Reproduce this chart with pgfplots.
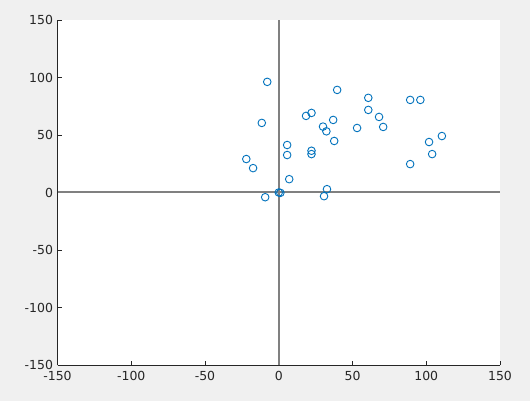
\documentclass[border=0pt]{standalone}
\usepackage{fontspec}
\setmainfont{DejaVu Sans}
\usepackage{pgfplots}
\pgfplotsset{compat=1.18}
\definecolor{bgfig}{RGB}{240,240,240}
\definecolor{axcol}{RGB}{38,38,38}
\definecolor{mblue}{RGB}{0,114,189}
\definecolor{zline}{RGB}{128,128,128}
\begin{document}
\begin{tikzpicture}
\fill[bgfig] (0,0) rectangle (530bp,401bp);
\begin{axis}[
  at={(57.5bp,36bp)}, anchor=south west,
  scale only axis, width=442.5bp, height=345bp,
  xmin=-150, xmax=150, ymin=-150, ymax=150,
  xtick={-150,-100,...,150}, ytick={-150,-100,...,150},
  axis lines*=left,
  axis line style={-, axcol, line width=0.7bp},
  tick align=inside,
  major tick length=4bp,
  tick style={axcol, line width=0.7bp},
  axis background/.style={fill=white},
  ticklabel style={font=\fontsize{12.5}{15}\selectfont, text=axcol},
  /pgf/number format/assume math mode=true,
  xticklabel style={yshift=-2.5bp},
  yticklabel style={xshift=-1bp},
  clip=false,
]
\addplot[zline, line width=2bp] coordinates {(-150,0) (150,0)};
\addplot[zline, line width=2bp] coordinates {(0,-150) (0,150)};
\addplot[only marks, mark=o, mark size=3.8bp, mblue, mark options={line width=0.9bp}] coordinates {
(-7.8,96.2) (39.6,89.2) (60.7,82.3) (89.1,80.5) (96.0,80.5) (60.7,71.8)
(22.2,69.2) (18.5,66.6) (68.0,65.7) (36.9,63.1) (-11.5,60.5) (30.0,57.3)
(70.8,57.0) (53.1,56.1) (32.3,53.2) (110.6,49.1) (37.6,44.8) (101.9,43.9)
(5.7,41.3) (22.2,36.3) (22.2,33.4) (5.7,32.6) (104.0,33.4) (-22.0,29.1)
(89.1,24.7) (-17.4,21.2) (7.1,11.6) (32.7,2.9) (0,0) (1.1,-0.3)
(-9.2,-4.1) (30.7,-3.2)
};
\end{axis}
\end{tikzpicture}
\end{document}
